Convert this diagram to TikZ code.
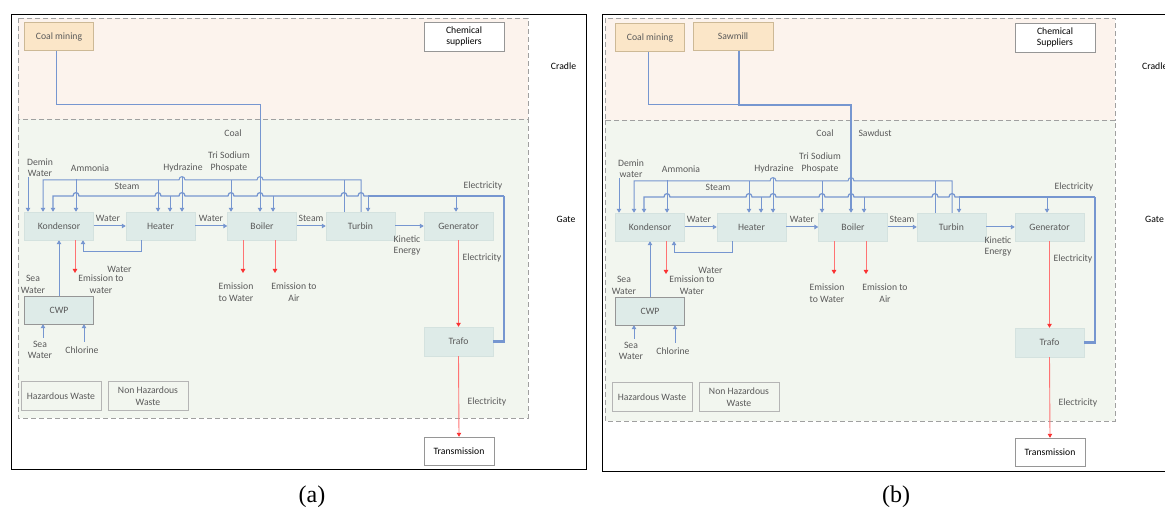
\documentclass[tikz,border=0pt]{standalone}
\usepackage{fontspec}
\setmainfont{Carlito}
\newfontfamily\capfont{Liberation Serif}
\usetikzlibrary{arrows.meta,calc}
\definecolor{cradlebg}{RGB}{252,243,237}
\definecolor{gatebg}{RGB}{242,246,239}
\definecolor{procbg}{RGB}{222,235,232}
\definecolor{procbd}{RGB}{212,226,223}
\definecolor{minebg}{RGB}{251,230,200}
\definecolor{minebd}{RGB}{205,185,150}
\definecolor{txt}{RGB}{90,90,90}
\definecolor{pipe}{RGB}{118,150,208}
\definecolor{emis}{RGB}{255,115,115}
\definecolor{emtip}{RGB}{250,50,50}
\definecolor{dashc}{RGB}{160,160,160}
\definecolor{wbd}{RGB}{150,150,150}
\newcommand\fs{\fontsize{9.7}{11.5}\selectfont}
\newcommand\J[2]{-- ({#1-3},#2) .. controls ({#1-3},{#2-4.5}) and ({#1+3},{#2-4.5}) .. ({#1+3},#2)}
\tikzset{
  x=1pt,y=-1pt,
  proc/.style={fill=procbg,draw=procbd,line width=0.4pt,minimum width=69pt,minimum height=28pt,inner sep=0pt,text=txt,font=\fs,align=center},
  mine/.style={proc,fill=minebg,draw=minebd},
  wbox/.style={proc,fill=white,draw=wbd,text=black},
  waste/.style={proc,fill=gatebg,draw=wbd!70,minimum width=80pt,minimum height=29pt},
  lab/.style={text=txt,font=\fs,align=center,inner sep=0pt},
  side/.style={text=black,font=\fs,inner sep=0pt},
  region/.style={draw=dashc,line width=0.8pt,dash pattern=on 5pt off 3pt},
  pp/.style={draw=pipe,line width=1pt},
  ep/.style={draw=pipe,line width=1.25pt},
  rp/.style={draw=emis,line width=0.9pt},
  arr/.style={-{Triangle[width=4.5pt,length=4pt]}},
  rarr/.style={{Triangle[width=4.5pt,length=4pt]}-},
  redarr/.style={-{Triangle[width=4.5pt,length=4pt,color=emtip]}},
  captxt/.style={font=\capfont\fontsize{24}{28}\selectfont,inner sep=0pt},
}
\newcommand\panel[3]{%
  \node[mine] (coal) at (59,36.5) {Coal mining};
  \node[wbox,minimum width=80pt,minimum height=29pt] (chem) at (464,36.5) {Chemical\\#2};
  \node[proc] (kond) at (59,226) {Kondensor};
  \node[proc] (heat) at (160.5,226) {Heater};
  \node[proc] (boil) at (262,226) {Boiler};
  \node[proc] (turb) at (360.5,226) {Turbin};
  \node[proc] (gen) at (458.5,226) {Generator};
  \node[proc,draw=wbd] (cwp) at (59,310) {CWP};
  \node[proc,minimum height=29pt] (trafo) at (458.5,341.5) {Trafo};
  \node[wbox,minimum width=70pt] (trans) at (459,451) {Transmission};
  \node[waste] (haz) at (61,396) {Hazardous Waste};
  \node[waste] (nhaz) at (148,396) {Non Hazardous\\Waste};
  \node[lab] (ldemin) at (40,167.5) {Demin\\#1};
  \node[lab] (lamm) at (90,168) {Ammonia};
  \node[lab] (lhyd) at (183,168) {Hydrazine};
  \node[lab] (ltsp) at (229,162) {Tri Sodium\\Phospate};
  \node[lab] (lsteam) at (127,186) {Steam};
  \node[lab] (lelec) at (483,186) {Electricity};
  \node[lab] (lw1) at (108,218) {Water};
  \node[lab] (lw2) at (211,218) {Water};
  \node[lab] (lst) at (311,218) {Steam};
  \node[lab] (lke) at (407,245.5) {Kinetic\\Energy};
  \node[lab] (lw3) at (119.5,269) {Water};
  \node[lab] (lem) at (101,284) {Emission to\\#3};
  \node[lab] (lsw1) at (33,284.5) {Sea\\Water};
  \node[lab] (lsw2) at (40,350) {Sea\\Water};
  \node[lab] (lcl) at (82,350) {Chlorine};
  \node[lab] (lew) at (236,292) {Emission\\to Water};
  \node[lab] (lea) at (294,292) {Emission to\\Air};
  \node[lab] (lel2) at (482,258) {Electricity};
  \node[lab] (lel3) at (487,402) {Electricity};
  % steam line
  \coordinate (sk) at (43,180);
  \coordinate (sh) at (158,180);
  \coordinate (st1) at (344,180);
  \coordinate (st2) at (361,180);
  \draw[pp,rarr] (sk |- kond.north) -- (sk) \J{182}{180} \J{260}{180} -- (st2) -- (st2 |- turb.north);
  \draw[pp] (st1) -- (st1 |- turb.north);
  \draw[pp,arr] (sh) -- (sh |- heat.north);
  % electricity line
  \coordinate (ek) at (53,196);
  \coordinate (eh) at (170,196);
  \coordinate (eb) at (273,196);
  \coordinate (et) at (368,196);
  \coordinate (eg) at (456,196);
  \coordinate (er) at (504,196);
  \draw[ep,rarr] (ek |- kond.north) -- (ek) \J{76}{196} \J{158}{196} \J{182}{196} \J{231}{196} \J{260}{196} \J{344}{196} \J{361}{196} -- (et);
  \draw[ep,line width=1.6pt] (et) -- (er);
  \draw[ep,line width=2.2pt] (er) -- (er |- trafo.east) -- (trafo.east);
  \draw[pp,arr] (eh) -- (eh |- heat.north);
  \draw[pp,arr] (eb) -- (eb |- boil.north);
  \draw[pp,arr] (et) -- (et |- turb.north);
  \draw[pp,arr] (eg) -- (eg |- gen.north);
  % chemical inputs
  \coordinate (dw) at (28,177);
  \coordinate (am) at (76,179);
  \coordinate (hy) at (182,177);
  \coordinate (ts) at (231,180);
  \draw[pp,arr] (dw) -- (dw |- kond.north);
  \draw[pp,arr] (am) -- (am |- kond.north);
  \draw[pp,arr] (hy) -- (hy |- heat.north);
  \draw[pp,arr] (ts) -- (ts |- boil.north);
  % process chain
  \draw[pp,arr] (kond.east) -- (heat.west);
  \draw[pp,arr] (heat.east) -- (boil.west);
  \draw[pp,arr] (boil.east) -- (turb.west);
  \draw[pp,arr] (turb.east) -- (gen.west);
  % heater return
  \coordinate (hr) at (141,252);
  \coordinate (kr) at (83,252);
  \draw[pp,arr] (hr |- heat.south) -- (hr) -- (kr) -- (kr |- kond.south);
  % emissions
  \coordinate (ke) at (75,273);
  \coordinate (bw) at (243,273);
  \coordinate (ba) at (275,273);
  \draw[rp,redarr] (ke |- kond.south) -- (ke);
  \draw[rp,redarr] (bw |- boil.south) -- (bw);
  \draw[rp,redarr] (ba |- boil.south) -- (ba);
  % cooling water
  \draw[pp,arr] (cwp.north) -- (cwp.north |- kond.south);
  \coordinate (sw) at (43,338);
  \coordinate (cl) at (84,342);
  \draw[pp,arr] (sw) -- (sw |- cwp.south);
  \draw[pp,arr] (cl) -- (cl |- cwp.south);
  % electricity out
  \draw[rp,redarr] (gen.south) -- (trafo.north);
  \draw[rp,redarr] (trafo.south) -- (trans.north);
}
\begin{document}
\begin{tikzpicture}
\useasboundingbox (0,0) rectangle (1165,510);
\clip (0,0) rectangle (1165,510);
% ---------- panel (a)
\draw[line width=1pt] (11,15) rectangle (586,469);
\draw[region,fill=cradlebg] (18,18) rectangle (528,119);
\draw[region,fill=gatebg] (18,119) rectangle (528,418);
\node[side] (cra) at (563.5,66) {Cradle};
\node[side] (gta) at (566,219) {Gate};
\begin{scope}[name prefix=a-]
  \panel{Water}{suppliers}{water}
  \node[lab] (lcoal) at (233,133) {Coal};
  \coordinate (cb) at (260,105);
  \coordinate (cs) at (56,105);
  \draw[pp,arr] (cs |- coal.south) -- (cs) -- (cb) -- (cb |- boil.north);
\end{scope}
% ---------- panel (b)
\draw[line width=1pt] (602,15) rectangle (1190,471);
\draw[region,fill=cradlebg] (605,18) rectangle (1115,120);
\draw[region,fill=gatebg] (605,120) rectangle (1115,421);
\node[side,anchor=west] (crb) at (1142,66) {Cradle};
\node[side,anchor=west] (gtb) at (1145,219) {Gate};
\begin{scope}[shift={(591,1)},name prefix=b-]
  \panel{water}{Suppliers}{Water}
  \node[mine,minimum width=80pt] (saw) at (142,35.5) {Sawmill};
  \node[lab] (lcoal) at (234,132) {Coal};
  \node[lab] (lsaw) at (284,132) {Sawdust};
  \coordinate (cs) at (57,104);
  \coordinate (cb) at (148,104);
  \coordinate (cm) at (260,104);
  \draw[pp] (cs |- coal.south) -- (cs) -- (cb);
  \draw[pp,arr,line width=1.3pt] (saw.south -| cb) -- (cb) -- (cm) -- (cm |- boil.north);
\end{scope}
% captions
\node[captxt] (capa) at (312,497) {(a)};
\node[captxt] (capb) at (896,497) {(b)};
\end{tikzpicture}
\end{document}
